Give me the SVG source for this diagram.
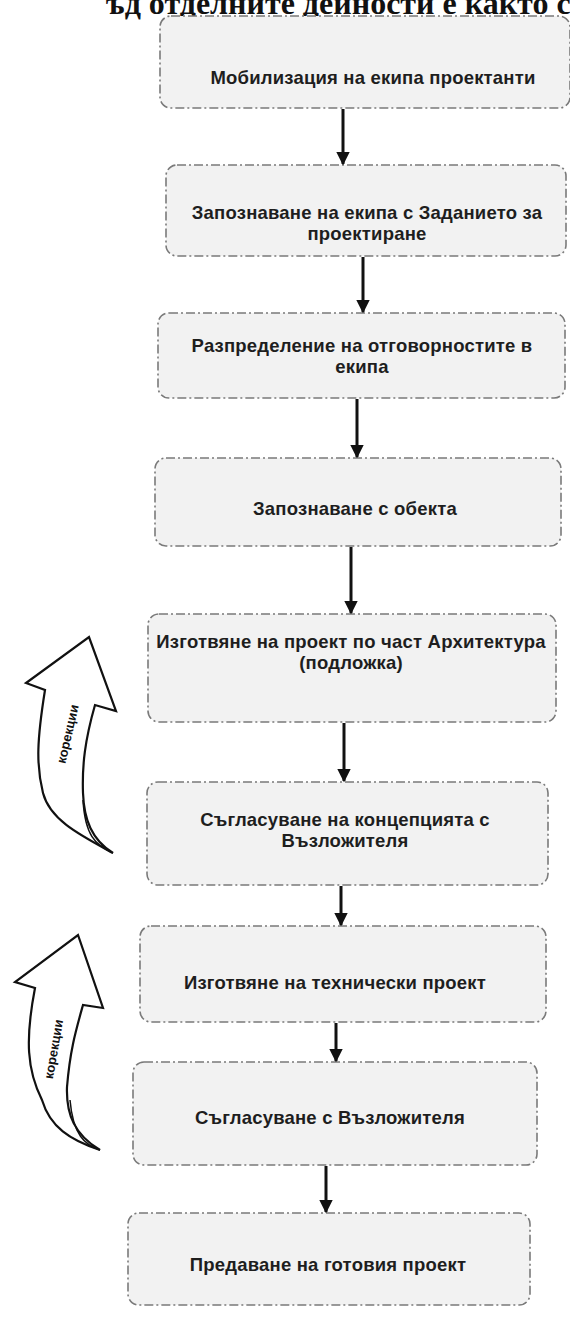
<svg xmlns="http://www.w3.org/2000/svg" width="570" height="1318" viewBox="0 0 570 1318">
<defs>
<style>
.box{fill:#f2f2f2;stroke:#7a7a7a;stroke-width:1.6;stroke-dasharray:9 3 2 3}
.lbl{font-family:"Liberation Sans",Arial,sans-serif;font-size:18.5px;fill:#1e1e1e;text-anchor:middle;font-weight:bold;letter-spacing:0.2px}
.title{font-family:"Liberation Serif","Times New Roman",serif;font-size:32px;font-weight:bold;fill:#111}
.conn{stroke:#111;stroke-width:3;fill:none}
.curve{fill:#fff;stroke:#111;stroke-width:2.2;stroke-linejoin:miter}
.ctext{font-family:"Liberation Sans",Arial,sans-serif;font-size:13px;font-weight:bold;fill:#111;text-anchor:middle}
</style>
<marker id="ah" viewBox="0 0 10 10" refX="9" refY="5" markerWidth="4.5" markerHeight="4.5" orient="auto" markerUnits="strokeWidth">
<path d="M0,0 L10,5 L0,10 z" fill="#111"/>
</marker>
</defs>
<rect width="570" height="1318" fill="#fff"/>
<text class="title" x="106" y="14">ъд отделните дейности е както с</text>

<g id="n1"><rect class="box" x="160" y="16" width="410" height="92" rx="11"/><text class="lbl" x="373" y="84">Мобилизация на екипа проектанти</text></g>
<g id="n2"><rect class="box" x="166" y="165" width="400" height="91" rx="11"/><text class="lbl" x="367" y="219">Запознаване на екипа с Заданието за</text><text class="lbl" x="367" y="240">проектиране</text></g>
<g id="n3"><rect class="box" x="158" y="313" width="407" height="85" rx="11"/><text class="lbl" x="362" y="352">Разпределение на отговорностите в</text><text class="lbl" x="362" y="373">екипа</text></g>
<g id="n4"><rect class="box" x="155" y="458" width="406" height="88" rx="11"/><text class="lbl" x="355" y="515">Запознаване с обекта</text></g>
<g id="n5"><rect class="box" x="148" y="614" width="408" height="108" rx="11"/><text class="lbl" x="351" y="648">Изготвяне на проект по част Архитектура</text><text class="lbl" x="351" y="669">(подложка)</text></g>
<g id="n6"><rect class="box" x="147" y="782" width="401" height="103" rx="11"/><text class="lbl" x="345" y="826">Съгласуване на концепцията с</text><text class="lbl" x="345" y="847">Възложителя</text></g>
<g id="n7"><rect class="box" x="140" y="926" width="406" height="96" rx="11"/><text class="lbl" x="335" y="989">Изготвяне на технически проект</text></g>
<g id="n8"><rect class="box" x="133" y="1062" width="404" height="103" rx="11"/><text class="lbl" x="330" y="1124">Съгласуване с Възложителя</text></g>
<g id="n9"><rect class="box" x="128" y="1213" width="402" height="92" rx="11"/><text class="lbl" x="328" y="1271">Предаване на готовия проект</text></g>

<g id="connectors">
<line class="conn" x1="343" y1="109" x2="343" y2="164" marker-end="url(#ah)"/>
<line class="conn" x1="363" y1="257" x2="363" y2="312" marker-end="url(#ah)"/>
<line class="conn" x1="357" y1="399" x2="357" y2="457" marker-end="url(#ah)"/>
<line class="conn" x1="351" y1="547" x2="351" y2="613" marker-end="url(#ah)"/>
<line class="conn" x1="344" y1="723" x2="344" y2="781" marker-end="url(#ah)"/>
<line class="conn" x1="341" y1="886" x2="341" y2="925" marker-end="url(#ah)"/>
<line class="conn" x1="336" y1="1023" x2="336" y2="1061" marker-end="url(#ah)"/>
<line class="conn" x1="326" y1="1166" x2="326" y2="1212" marker-end="url(#ah)"/>
</g>

<g id="corr1">
<path class="curve" d="M113,853 C80,835 50,820 43,793 C36,765 37,740 45,690 L26,683 L89,637 L116,711 L95,705 C85,740 82,765 83,793 C84,820 92,840 113,853 Z"/>
<path d="M113,853 C95,845 85,835 83,800" fill="none" stroke="#111" stroke-width="1.5"/>
<text class="ctext" transform="translate(72,735) rotate(-77)">корекции</text>
</g>
<g id="corr2">
<path class="curve" d="M100,1150 C70,1140 50,1127 42,1100 C27,1070 25,1040 35,988 L15,982 L78,935 L103,1008 L83,1005 C76,1030 70,1050 67,1087 C66,1115 75,1135 100,1150 Z"/>
<path d="M100,1150 C85,1145 73,1135 70,1100" fill="none" stroke="#111" stroke-width="1.5"/>
<text class="ctext" transform="translate(58,1050) rotate(-80)">корекции</text>
</g>
</svg>
